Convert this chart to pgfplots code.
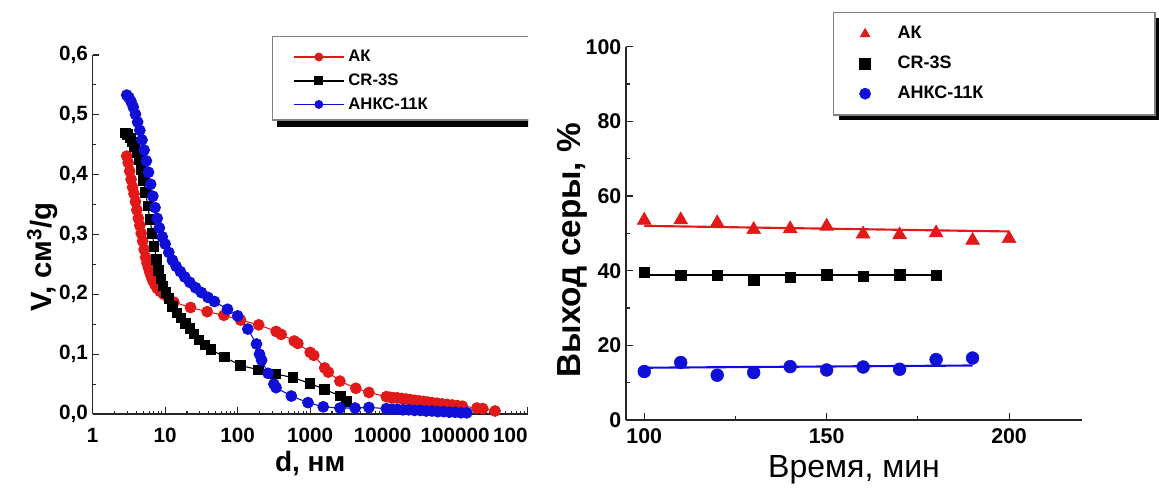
\documentclass[border=0pt]{standalone}
\usepackage{fontspec}
\setmainfont{Liberation Sans}
\usepackage{pgfplots}
\pgfplotsset{compat=1.18}
\definecolor{cred}{RGB}{225,25,25}
\definecolor{cblue}{RGB}{15,15,215}
\begin{document}
\begin{tikzpicture}
\begin{scope}
\clip (0,0) rectangle (396pt,365.25pt);
\begin{axis}[
  at={(69.5pt,54.75pt)}, anchor=south west,
  scale only axis, width=326.25pt, height=269.25pt,
  xmode=log, xmin=1, xmax=1e6, ymin=0, ymax=0.6,
  axis lines=left, axis line style={-, line width=1pt, black!85},
  tick align=inside, major tick length=5pt, minor tick length=2.5pt,
  tick style={black!85, line width=0.8pt},
  xtick={1,10,100,1000,10000,100000,1000000},
  xticklabels={1,10,100,1000,10000,100000,\llap{100}},
  ytick={0,0.1,0.2,0.3,0.4,0.5,0.6},
  yticklabels={{0,0},{0,1},{0,2},{0,3},{0,4},{0,5},{0,6}},
  minor ytick={0.05,0.15,0.25,0.35,0.45,0.55},
  /pgf/number format/assume math mode=true,
  xticklabel style={font=\bfseries\fontsize{15.5}{17}\selectfont, yshift=-7pt},
  yticklabel style={font=\bfseries\fontsize{15.5}{17}\selectfont},
  xlabel={d, нм},
  ylabel={V, см\textsuperscript{3}/g},
  xlabel style={font=\bfseries\fontsize{21}{24}\selectfont, at={(axis description cs:0.5,-0.137)}, anchor=center},
  ylabel style={font=\bfseries\fontsize{22}{24}\selectfont, at={(axis description cs:-0.116,0.437)}, anchor=center},
  clip=false,
  legend style={at={(axis description cs:0.4605,1.0175)}, anchor=north west, draw=none, fill=none, inner sep=0pt,
    font=\bfseries\fontsize{12.5}{14}\selectfont, row sep=5.8pt,
    nodes={inner ysep=0pt, inner xsep=3pt, text height=9.5pt, text depth=2.5pt}},
  legend cell align=left,
  legend image code/.code={\draw[mark repeat=2,mark phase=2,#1,line width=1.4pt,mark size=2.6pt] plot coordinates {(0cm,0cm)(0.65cm,0cm)(1.3cm,0cm)};},
]
\fill[black] (axis description cs:0.424,0.799) rectangle (axis description cs:1.3,0.822);
\draw[black!50, fill=white, line width=0.8pt] (axis description cs:0.414,1.051) rectangle (axis description cs:1.3,0.819);

\addplot[color=cred, line width=0.8pt, mark=*, mark size=4pt, mark options={solid, fill=cred, draw=cred}] coordinates {
(2.95,0.431) (3.09,0.420) (3.24,0.406) (3.39,0.392) (3.55,0.379) (3.72,0.368) (3.89,0.355) (4.07,0.341)
(4.27,0.327) (4.47,0.315) (4.68,0.302) (4.90,0.289) (5.13,0.275) (5.37,0.262) (5.62,0.252) (5.89,0.244)
(6.17,0.236) (6.46,0.229) (6.76,0.223) (7.24,0.216) (7.76,0.210) (8.51,0.205) (9.55,0.200) (10.96,0.195)
(13.18,0.187) (22.4,0.178) (38.0,0.171) (64.6,0.165) (109.6,0.157) (195,0.149) (339,0.138) (398,0.133)
(603,0.122) (676,0.118) (1000,0.103) (1122,0.098) (1585,0.077) (1778,0.070) (2570,0.055) (4266,0.043)
(6457,0.036) (11220,0.029) (12590,0.028) (14125,0.027) (15850,0.027) (18200,0.026) (20890,0.025)
(23990,0.024) (27540,0.023) (31620,0.022) (36310,0.021) (41690,0.020) (47860,0.019) (56230,0.018)
(66070,0.017) (77620,0.016) (91200,0.015) (107200,0.014) (125900,0.013) (199500,0.010) (239900,0.009)
(354800,0.005)
};
\addlegendentry{АК}

\addplot[color=black, line width=0.8pt, mark=square*, mark size=3.5pt, mark options={solid, fill=black}] coordinates {
(2.82,0.470) (3.02,0.467) (3.31,0.461) (3.55,0.455) (3.80,0.447) (4.07,0.437) (4.37,0.425) (4.68,0.408)
(5.01,0.390) (5.37,0.370) (5.75,0.348) (6.17,0.325) (6.61,0.302) (7.08,0.280) (7.59,0.258) (8.13,0.240)
(8.71,0.226) (9.33,0.214) (10.23,0.203) (11.22,0.193) (12.59,0.180) (14.45,0.169) (16.6,0.160)
(19.05,0.151) (21.88,0.143) (25.12,0.134) (29.51,0.124) (35.48,0.115) (42.66,0.108) (66.07,0.095)
(109.6,0.081) (195,0.074) (331,0.067) (575,0.061) (1000,0.051) (1585,0.041) (2630,0.030) (3162,0.021)
};
\addlegendentry{CR-3S}

\addplot[color=cblue, line width=0.8pt, mark=*, mark size=4pt, mark options={solid, fill=cblue, draw=cblue}] coordinates {
(2.95,0.533) (3.16,0.529) (3.39,0.522) (3.63,0.513) (3.89,0.501) (4.17,0.488) (4.47,0.474) (4.79,0.458)
(5.13,0.441) (5.50,0.423) (5.89,0.404) (6.31,0.384) (6.76,0.364) (7.24,0.345) (7.76,0.327) (8.32,0.311)
(9.12,0.296) (10,0.284) (11.22,0.270) (12.59,0.257) (14.13,0.247) (16.22,0.238) (18.62,0.229)
(21.88,0.220) (26.3,0.211) (31.62,0.203) (38.9,0.195) (47.86,0.188) (72.44,0.175) (100,0.164)
(138,0.142) (182,0.117) (200,0.100) (214,0.090) (263,0.068) (316,0.050) (339,0.044) (550,0.030)
(933,0.019) (1514,0.012) (2570,0.010) (4169,0.010) (6457,0.011) (11220,0.009) (13180,0.008)
(15850,0.008) (19050,0.007) (22910,0.007) (27540,0.006) (33110,0.006) (39810,0.005) (47860,0.005)
(57540,0.004) (69180,0.004) (83180,0.003) (100000,0.003) (120200,0.002) (144500,0.002)
};
\addlegendentry{АНКС-11К}
\end{axis}
\end{scope}

\begin{axis}[
  at={(469.5pt,50.25pt)}, anchor=south west,
  scale only axis, width=342pt, height=280pt,
  xmin=95, xmax=220, ymin=0, ymax=100,
  axis lines=left, axis line style={-, line width=1pt, black!85},
  tick align=inside, major tick length=5pt, minor tick length=3pt,
  tick style={black!85, line width=0.8pt},
  xtick={100,150,200}, minor xtick={125,175},
  ytick={0,20,40,60,80,100}, minor ytick={10,30,50,70,90},
  /pgf/number format/assume math mode=true,
  xticklabel style={font=\bfseries\fontsize{16}{18}\selectfont, yshift=-3pt},
  yticklabel style={font=\bfseries\fontsize{16}{18}\selectfont},
  xlabel={Время, мин},
  ylabel={Выход серы, \%},
  xlabel style={font=\fontsize{24}{27}\selectfont, at={(axis description cs:0.5,-0.133)}, anchor=center},
  ylabel style={font=\bfseries\fontsize{25}{28}\selectfont, at={(axis description cs:-0.118,0.455)}, anchor=center},
  clip=false,
  legend style={at={(axis description cs:0.503,1.058)}, anchor=north west, draw=none, fill=none, inner sep=0pt,
    font=\bfseries\fontsize{13.5}{15}\selectfont, row sep=9.4pt,
    nodes={inner ysep=0pt, inner xsep=3pt, text height=10pt, text depth=3pt}},
  legend cell align=left,
  legend image code/.code={\path[draw=none,fill=none] (-0.25cm,0) -- (0.75cm,0); \draw[#1,mark size=4.2pt] plot coordinates {(0cm,0cm)};},
]
\fill[black] (axis description cs:0.467,0.804) rectangle (axis description cs:1.171,1.077);
\draw[black!50, fill=white, line width=0.8pt] (axis description cs:0.456,1.091) rectangle (axis description cs:1.160,0.817);

\addplot[only marks, mark=triangle*, mark size=6pt, color=cred, mark options={fill=cred, draw=cred}] coordinates {
(100,53.5) (110,53.6) (120,52.8) (130,51.0) (140,51.2) (150,51.9) (160,49.8) (170,49.6) (180,50.1) (190,48.1) (200,48.6)
};
\addlegendentry{АК}
\addplot[only marks, mark=square*, mark size=3.9pt, color=black, mark options={fill=black}] coordinates {
(100,39.6) (110,38.7) (120,38.8) (130,37.5) (140,38.3) (150,38.9) (160,38.5) (170,38.9) (180,38.7)
};
\addlegendentry{CR-3S}
\addplot[only marks, mark=*, mark size=4.8pt, color=cblue, mark options={fill=cblue, draw=cblue}] coordinates {
(100,13.0) (110,15.4) (120,12.0) (130,12.7) (140,14.3) (150,13.4) (160,14.2) (170,13.6) (180,16.2) (190,16.6)
};
\addlegendentry{АНКС-11К}

\addplot[forget plot, no marks, color=cred, line width=1.6pt] coordinates {(100,52.0) (200,50.5)};
\addplot[forget plot, no marks, color=black, line width=1.6pt] coordinates {(100,38.9) (180,38.9)};
\addplot[forget plot, no marks, color=cblue, line width=1.6pt] coordinates {(100,14.0) (190,14.6)};
\end{axis}

\pgfresetboundingbox
\path[use as bounding box] (0,0) rectangle (869.25pt,365.25pt);
\end{tikzpicture}
\end{document}
